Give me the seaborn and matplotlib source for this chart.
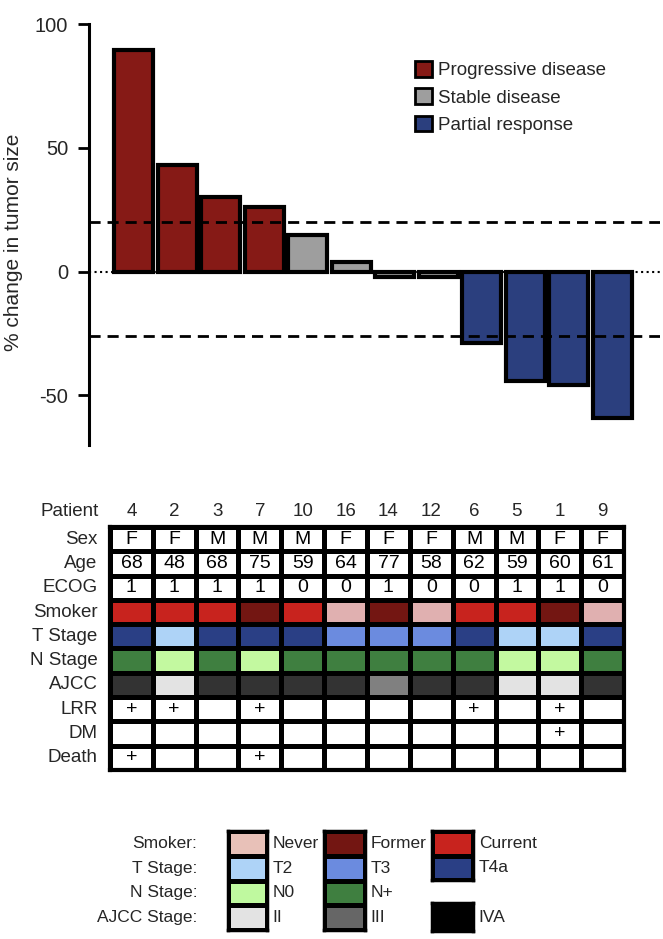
import numpy as np
import pandas as pd
import matplotlib
matplotlib.use("Agg")
import matplotlib.pyplot as plt
from matplotlib.colors import ListedColormap
import seaborn as sns

# waterfall data (patient order as in the figure)
patients = ["4", "2", "3", "7", "10", "16", "14", "12", "6", "5", "1", "9"]
change = [89.5, 43, 30, 26, 15, 4, -2.2, -2, -29, -44, -45.6, -59.3]
response = ["Progressive disease", "Progressive disease", "Progressive disease",
            "Progressive disease", "Stable disease", "Stable disease",
            "Stable disease", "Stable disease", "Partial response",
            "Partial response", "Partial response", "Partial response"]
thresholds = [20, -26]

# clinical table
sex = ["F", "F", "M", "M", "M", "F", "F", "F", "M", "M", "F", "F"]
age = ["68", "48", "68", "75", "59", "64", "77", "58", "62", "59", "60", "61"]
ecog = ["1", "1", "1", "1", "0", "0", "1", "0", "0", "1", "1", "0"]
smoker = ["Current", "Current", "Current", "Former", "Current", "Never",
          "Former", "Never", "Current", "Current", "Former", "Never"]
t_stage = ["T4a", "T2", "T4a", "T4a", "T4a", "T3", "T3", "T3", "T4a", "T2", "T2", "T4a"]
n_stage = ["N+", "N0", "N+", "N0", "N+", "N+", "N+", "N+", "N+", "N0", "N0", "N+"]
ajcc = ["IVA", "II", "IVA", "IVA", "IVA", "IVA", "III", "IVA", "IVA", "II", "II", "IVA"]
lrr = ["+", "+", "", "+", "", "", "", "", "+", "", "+", ""]
dm = ["", "", "", "", "", "", "", "", "", "", "+", ""]
death = ["+", "", "", "+", "", "", "", "", "", "", "", ""]

status_colors = {"Progressive disease": "#861a16",
                 "Stable disease": "#9e9e9e",
                 "Partial response": "#2b3f7e"}
cell_colors = {"": "white", "Never": "#e0b0b0", "Former": "#731612",
               "Current": "#c8231e", "T2": "#aed3f7", "T3": "#6b8bdf",
               "T4a": "#2a3f85", "N0": "#c3f9a0", "N+": "#3f7f40",
               "II": "#e3e3e3", "III": "#808080", "IVA": "#333333"}

key_rows = ["Smoker:", "T Stage:", "N Stage:", "AJCC Stage:"]
key_col1 = ["Never", "T2", "N0", "II"]
key_col2 = ["Former", "T3", "N+", "III"]
key_col3a = ["Current", "T4a"]
key_col3b = ["IVA"]
key_colors = {"Never": "#e8c1b8", "Former": "#731612", "Current": "#c8231e",
              "T2": "#aed3f7", "T3": "#6b8bdf", "T4a": "#2a3f85",
              "N0": "#bff99f", "N+": "#3f7f40", "II": "#e3e3e3",
              "III": "#666666", "IVA": "#000000"}

sns.set_style("white")
plt.rcParams["font.family"] = ["Liberation Sans", "DejaVu Sans"]
plt.rcParams["axes.unicode_minus"] = False

fig = plt.figure(figsize=(6.63, 9.39), dpi=100)

# ---- waterfall ----
ax = fig.add_axes([0.1342, 0.5261, 0.8613, 0.4483])
df = pd.DataFrame({"Patient": patients, "Change": change, "Response": response})
sns.barplot(data=df, x="Patient", y="Change", hue="Response", order=patients,
            hue_order=list(status_colors), palette=status_colors, dodge=False,
            width=0.9, saturation=1, edgecolor="black", linewidth=3, ax=ax)
for t in thresholds:
    ax.axhline(t, color="black", lw=2, ls=(0, (4, 2.5)), zorder=4)
ax.axhline(0, color="black", lw=1.5, ls=":", zorder=4)
ax.set_xlim(-1.03, 12.10)
ax.set_ylim(-70, 100)
ax.set_yticks([-50, 0, 50, 100])
ax.set_xticks([])
ax.set_xlabel("")
ax.set_ylabel("% change in tumor size", fontsize=15)
ax.yaxis.set_label_coords(-0.1156, 0.482)
for s in ["top", "right", "bottom"]:
    ax.spines[s].set_visible(False)
ax.spines["left"].set_linewidth(2.2)
ax.spines["left"].set_color("black")
ax.tick_params(axis="y", left=True, length=8, width=2, color="black", pad=7,
               labelsize=14.5)

handles, labels = ax.get_legend_handles_labels()
for h in handles:
    h.set_edgecolor("black")
    h.set_linewidth(2)
ax.legend(handles, labels, loc="upper left", bbox_to_anchor=(0.571, 0.912),
          frameon=False, handlelength=0.9, handleheight=0.9, handletextpad=0.35,
          labelspacing=0.48, borderpad=0, borderaxespad=0,
          prop={"size": 13.5})

# ---- clinical table ----
tab = fig.add_axes([0.1659, 0.1800, 0.7753, 0.2588])
row_names = ["Sex", "Age", "ECOG", "Smoker", "T Stage", "N Stage", "AJCC",
             "LRR", "DM", "Death"]
row_vals = [sex, age, ecog, smoker, t_stage, n_stage, ajcc, lrr, dm, death]
color_rows = {"Smoker", "T Stage", "N Stage", "AJCC"}
keys = list(cell_colors)
codes = np.zeros((len(row_names), len(patients)))
annot = np.full((len(row_names), len(patients)), "", dtype=object)
for i, (name, vals) in enumerate(zip(row_names, row_vals)):
    for j, v in enumerate(vals):
        if name in color_rows:
            codes[i, j] = keys.index(v)
        else:
            annot[i, j] = v

sns.heatmap(codes, ax=tab, cmap=ListedColormap(list(cell_colors.values())),
            vmin=-0.5, vmax=len(keys) - 0.5, annot=annot, fmt="",
            annot_kws={"fontsize": 14, "color": "black"},
            linewidths=3.5, linecolor="black", cbar=False,
            xticklabels=patients, yticklabels=row_names)
tab.xaxis.tick_top()
tab.tick_params(length=0)
tab.tick_params(axis="x", pad=5, labelsize=13.5, labelrotation=0)
tab.tick_params(axis="y", pad=9, labelsize=13.5, labelrotation=0)
for s in tab.spines.values():
    s.set_visible(True)
    s.set_linewidth(3)
    s.set_color("black")
tab.text(-0.27, -0.64, "Patient", ha="right", va="center", fontsize=13.5)


# ---- colour key ----
def draw_key(rect, names, row_labels=None, frame=True):
    kax = fig.add_axes(rect)
    data = np.arange(len(names)).reshape(-1, 1)
    sns.heatmap(data, ax=kax, cmap=ListedColormap([key_colors[k] for k in names]),
                vmin=-0.5, vmax=len(names) - 0.5, cbar=False, linewidths=2.5,
                linecolor="black", xticklabels=False,
                yticklabels=row_labels if row_labels else False)
    kax.tick_params(length=0)
    if row_labels:
        kax.tick_params(axis="y", pad=22, labelsize=12.5, labelrotation=0)
    for s in kax.spines.values():
        s.set_visible(frame)
        s.set_linewidth(2.5)
        s.set_color("black")
    for i, k in enumerate(names):
        kax.text(1.13, i + 0.5, k, ha="left", va="center", fontsize=12.5,
                 clip_on=False)


draw_key([0.344, 0.0096, 0.059, 0.1054], key_col1, key_rows)
draw_key([0.489, 0.0096, 0.062, 0.1054], key_col2)
draw_key([0.652, 0.0628, 0.062, 0.0522], key_col3a)
draw_key([0.652, 0.0085, 0.062, 0.0298], key_col3b)

fig.savefig("out.png", dpi=100)
